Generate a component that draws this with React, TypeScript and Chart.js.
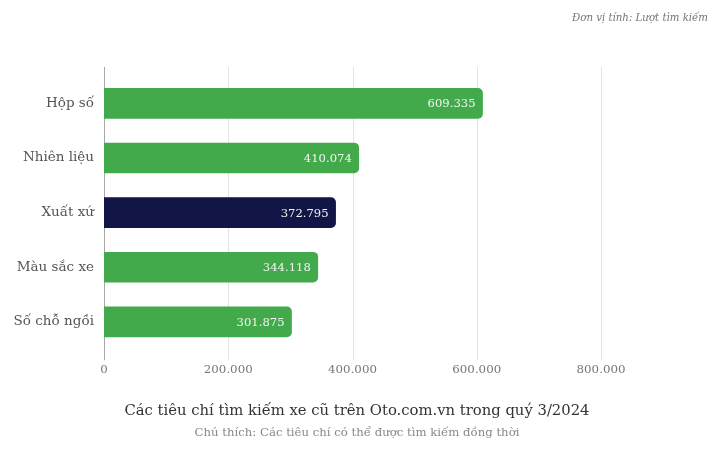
import React, { useEffect, useRef } from "react";
import { Chart, registerables } from "chart.js";

Chart.register(...registerables);

const categories = ["Hộp số", "Nhiên liệu", "Xuất xứ", "Màu sắc xe", "Số chỗ ngồi"];
const searches = [609335, 410074, 372795, 344118, 301875];
const barColors = ["#42aa4b", "#42aa4b", "#121647", "#42aa4b", "#42aa4b"];
const xMin = 0;
const xMax = 800000;
const xStep = 200000;
const titleText = "Các tiêu chí tìm kiếm xe cũ trên Oto.com.vn trong quý 3/2024";
const subtitleText = "Chú thích: Các tiêu chí có thể được tìm kiếm đồng thời";
const unitText = "Đơn vị tính: Lượt tìm kiếm";

const FONT = "'DejaVu Serif', serif";

const fmt = (v: number) => Math.round(v).toString().replace(/\B(?=(\d{3})+(?!\d))/g, ".");

const gridPlugin = {
  id: "extendedGrid",
  beforeDatasetsDraw(chart: any) {
    const { ctx, chartArea, scales } = chart;
    const xs = scales.x;
    ctx.save();
    xs.ticks.forEach((t: any, i: number) => {
      const x = Math.round(xs.getPixelForValue(t.value)) + 0.5;
      ctx.beginPath();
      ctx.strokeStyle = i === 0 ? "#a8a8a8" : "#e3e3e3";
      ctx.lineWidth = 1;
      ctx.moveTo(x, chartArea.top - 9);
      ctx.lineTo(x, chartArea.bottom + 11);
      ctx.stroke();
    });
    ctx.restore();
  },
};

const barLabelPlugin = {
  id: "barLabels",
  afterDatasetsDraw(chart: any) {
    const { ctx } = chart;
    const meta = chart.getDatasetMeta(0);
    ctx.save();
    ctx.font = `11.6px ${FONT}`;
    ctx.fillStyle = "#f4f4f4";
    ctx.textAlign = "right";
    ctx.textBaseline = "middle";
    meta.data.forEach((bar: any, i: number) => {
      ctx.fillText(fmt(searches[i]), bar.x - 7, bar.y + 1);
    });
    ctx.restore();
  },
};

export default function App() {
  const ref = useRef<HTMLCanvasElement | null>(null);

  useEffect(() => {
    if (!ref.current) return;
    const chart = new Chart(ref.current, {
      type: "bar",
      data: {
        labels: categories,
        datasets: [
          {
            data: searches,
            backgroundColor: barColors,
            borderRadius: 5,
            borderSkipped: "start",
            barThickness: 30,
          },
        ],
      },
      options: {
        indexAxis: "y",
        animation: false,
        responsive: true,
        maintainAspectRatio: false,
        layout: { padding: { top: 76, right: 12, bottom: 0, left: 0 } },
        scales: {
          x: {
            min: xMin,
            max: xMax,
            grid: { display: false, drawTicks: false },
            border: { display: false },
            ticks: {
              stepSize: xStep,
              padding: 14,
              color: "#777",
              font: { family: FONT, size: 11.8 },
              callback: (v: any) => fmt(Number(v)),
            },
            afterFit: (s: any) => {
              s.height = 28;
            },
          },
          y: {
            grid: { display: false, drawTicks: false },
            border: { display: false },
            ticks: {
              padding: 10,
              color: "#555",
              font: { family: FONT, size: 13.5 },
            },
            afterFit: (s: any) => {
              s.width = 104;
            },
          },
          yRightSpace: {
            type: "linear",
            axis: "y",
            position: "right",
            display: true,
            grid: { display: false, drawTicks: false },
            border: { display: false },
            ticks: { display: false },
            afterFit: (s: any) => {
              s.width = 113;
            },
          },
        },
        plugins: {
          legend: { display: false },
          tooltip: { enabled: false },
          title: {
            display: true,
            text: titleText,
            position: "bottom",
            weight: 1000,
            color: "#333",
            font: { family: FONT, size: 14.8, weight: "normal" },
            padding: { top: 25, bottom: 2 },
          },
          subtitle: {
            display: true,
            text: subtitleText,
            position: "bottom",
            weight: 2000,
            color: "#888",
            font: { family: FONT, size: 11.7, weight: "normal" },
            padding: { top: 4, bottom: 13 },
          },
        },
      },
      plugins: [gridPlugin, barLabelPlugin],
    } as any);
    return () => chart.destroy();
  }, []);

  return (
    <div style={{ position: "fixed", left: 0, top: 0, width: 726, height: 453, background: "#fff" }}>
      <div
        style={{
          position: "absolute",
          right: 18,
          top: 12,
          fontFamily: FONT,
          fontStyle: "italic",
          fontSize: 10.2,
          color: "#777",
          whiteSpace: "nowrap",
        }}
      >
        {unitText}
      </div>
      <canvas ref={ref} />
    </div>
  );
}
